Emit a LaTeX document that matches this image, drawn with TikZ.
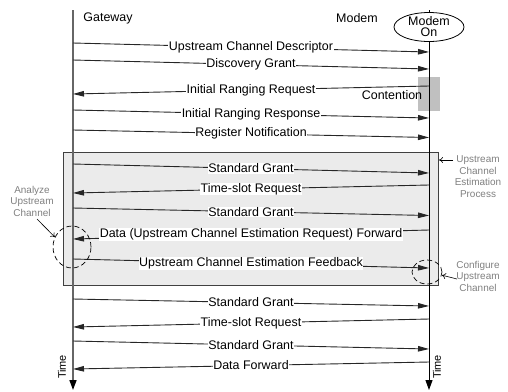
\documentclass[tikz,border=0pt]{standalone}
\usepackage{fontspec}
\setmainfont{Liberation Sans}
\usetikzlibrary{arrows.meta,shapes.geometric,calc}
\definecolor{boxfill}{HTML}{EBEBEB}
\definecolor{contfill}{HTML}{C0C0C0}
\definecolor{anngray}{HTML}{808080}
\begin{document}
\begin{tikzpicture}[x=1bp,y=-1bp,
  lbl/.style={fill=white,inner sep=0.5bp,font=\fontsize{12.5}{14}\selectfont},
  head/.style={font=\fontsize{12.5}{14}\selectfont,inner sep=0pt},
  msg/.style={line width=0.9bp,draw=black!85,-{Triangle[length=11bp,width=5.5bp]}},
  life/.style={-{Triangle[length=10bp,width=7bp,color=black]}},
  ann/.style={font=\fontsize{10}{11.5}\selectfont,text=anngray,align=center,inner sep=0pt},
  annarrow/.style={line width=0.6bp,-{To[length=4bp,width=6bp]}},
  dashring/.style={ellipse,draw,dashed,dash pattern=on 5bp off 3bp,line width=0.7bp,inner sep=0pt},
  timelbl/.style={rotate=90,font=\fontsize{11}{12}\selectfont,inner sep=0pt}
]
\useasboundingbox (0,0) rectangle (508,391);

% estimation process box
\node[draw=black!75,fill=boxfill,line width=0.8bp,minimum width=375bp,minimum height=133bp,inner sep=0pt,anchor=north west] (box) at (63,152) {};

% contention box
\node[fill=contfill,minimum width=22bp,minimum height=34bp,inner sep=0pt,anchor=north west] (cont) at (418,77) {};

% headers
\node[head] (gw) at (108,18) {Gateway};
\node[head] (mo) at (357,18) {Modem};
\node[ellipse,draw,line width=0.8bp,fill=white,minimum width=70bp,minimum height=29bp,inner sep=0pt,align=center,font=\fontsize{12.5}{11}\selectfont] (on) at (429,27) {Modem\\On};

% lifelines
\coordinate (gtop) at (73,10);
\coordinate (gbot) at (73,390);
\coordinate (mtop) at (429,10);
\coordinate (mbot) at (429,390);
\draw[line width=1.5bp,draw=black!60,life] (gtop) -- (gbot);
\draw[line width=0.9bp] (mtop) -- (on.north);
\draw[line width=0.9bp,life] (on.south) -- (mbot);

\node[head] (conttxt) at (392,95) {Contention};

% messages
\foreach \i/\gy/\my in {1/43/52,2/60/69,3/94/86,4/110/118,5/130/137.5,6/164/173,7/193/185,8/208/215.5,9/239/230,10/259/268,11/299/306,12/327/319,13/341/349,14/369/362}{
  \coordinate (g\i) at (73,\gy);
  \coordinate (m\i) at (429,\my);
}
\draw[msg] (g1) -- node[lbl]{Upstream Channel Descriptor} (m1);
\draw[msg] (g2) -- node[lbl]{Discovery Grant} (m2);
\draw[msg] (m3) -- node[lbl]{Initial Ranging Request} (g3);
\draw[msg] (g4) -- node[lbl]{Initial Ranging Response} (m4);
\draw[msg] (g5) -- node[lbl]{Register Notification} (m5);
\draw[msg] (g6) -- node[lbl]{Standard Grant} (m6);
\draw[msg] (m7) -- node[lbl]{Time-slot Request} (g7);
\draw[msg] (g8) -- node[lbl]{Standard Grant} (m8);
\draw[msg] (m9) -- node[lbl]{Data (Upstream Channel Estimation Request) Forward} (g9);
\draw[msg] (g10) -- node[lbl]{Upstream Channel Estimation Feedback} (m10);
\draw[msg] (g11) -- node[lbl]{Standard Grant} (m11);
\draw[msg] (m12) -- node[lbl]{Time-slot Request} (g12);
\draw[msg] (g13) -- node[lbl]{Standard Grant} (m13);
\draw[msg] (m14) -- node[lbl]{Data Forward} (g14);

% time labels
\node[timelbl] (tl) at (62,367) {Time};
\node[timelbl] (tr) at (437,367) {Time};

% annotations
\node[dashring,minimum width=38bp,minimum height=42bp] (ana) at (72,247) {};
\node[ann] (anatxt) at (32,201) {Analyze\\Upstream\\Channel};
\coordinate (anas) at (37,219);
\draw[annarrow] (anas) -- (ana.150);

\node[dashring,minimum width=30bp,minimum height=24bp] (cfg) at (427,272) {};
\node[ann] (cfgtxt) at (478,276) {Configure\\Upstream\\Channel};
\coordinate (cfgs) at (457,279);
\draw[annarrow] (cfgs) -- (cfg.-12);

\node[ann] (proctxt) at (478,176.5) {Upstream\\Channel\\Estimation\\Process};
\coordinate (procs) at (453,160);
\coordinate (proce) at (439,160);
\draw[annarrow] (procs) -- (proce);
\end{tikzpicture}
\end{document}
